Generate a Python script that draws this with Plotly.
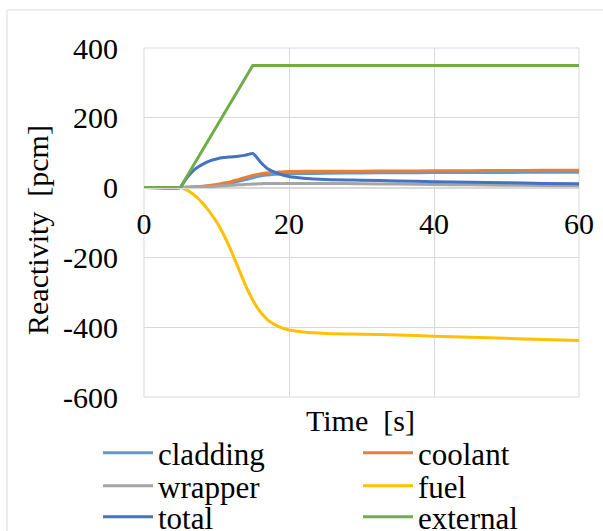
import plotly.graph_objects as go

time_s = [0, 5, 5.5, 6, 6.5, 7, 7.5, 8, 9, 10, 11, 12, 13, 14, 14.5, 15, 15.5, 16, 16.5, 17,
          18, 19, 20, 22, 25, 30, 35, 40, 45, 50, 55, 60]
external = [0, 0, 17.5, 35, 52.5, 70, 87.5, 105, 140, 175, 210, 245, 280, 315, 332.5, 350, 350, 350,
            350, 350, 350, 350, 350, 350, 350, 350, 350, 350, 350, 350, 350, 350]
total = [0, 0, 15, 30, 42, 52, 60, 66, 76, 82, 86, 88, 90, 93, 96, 98, 88, 75, 64, 55,
         44, 37, 32, 27, 23, 21, 19, 17, 15, 14, 12, 11]
coolant = [0, 0, 0.5, 1, 1.5, 2, 3, 4, 6, 9, 13, 17, 23, 29, 32, 35, 37, 39, 41, 42,
           44, 45, 46, 46.5, 47, 47, 47.5, 48, 48.5, 49, 49.5, 50]
cladding = [0, 0, 0.5, 1, 1.5, 2, 2.5, 3, 5, 7, 10, 13, 18, 23, 25, 28, 31, 33, 35, 36,
            38, 39, 40, 40.5, 41, 42, 42.5, 43, 43, 43.5, 44, 44]
wrapper = [0, 0, 0.3, 0.6, 1, 1.5, 2, 2.5, 3, 4, 5, 7, 8, 9, 9.5, 10, 10.5, 11, 11.5, 12,
           12, 12, 12, 12, 12, 11, 10, 9, 8, 7, 6, 5]
fuel = [0, 0, -3, -8, -15, -23, -32, -43, -68, -98, -135, -180, -230, -280, -302, -322, -340, -355,
        -367, -378, -392, -402, -408, -414, -418, -420, -422, -426, -429, -432, -435, -438]

x_ticks = [0, 20, 40, 60]
x_tick_text = ["0", "20", "40", "60"]
y_ticks = [-600, -400, -200, 0, 200, 400]
y_tick_text = ["-600", "-400", "-200", "0", "200", "400"]

FONT = "Liberation Serif, Times New Roman, Times, serif"
series = [
    ("cladding", cladding, "#5B9BD5", "legend"),
    ("coolant", coolant, "#ED7D31", "legend"),
    ("wrapper", wrapper, "#A5A5A5", "legend2"),
    ("fuel", fuel, "#FFC000", "legend2"),
    ("total", total, "#4472C4", "legend3"),
    ("external", external, "#70AD47", "legend3"),
]

fig = go.Figure()
for name, vals, col, lg in series:
    fig.add_trace(go.Scatter(x=time_s, y=vals, name=name, mode="lines",
                             line=dict(color=col, width=3,
                                       shape="linear" if name == "external" else "spline",
                                       smoothing=0.5),
                             legend=lg))

ML, MR, MT, MB = 144, 24, 48, 134
W, H = 603, 531
pw, ph = W - ML - MR, H - MT - MB

def px(x):
    return (x - ML) / pw

def py(y):
    return (H - MB - y) / ph

leg_common = dict(orientation="h", font=dict(family=FONT, size=31, color="black"),
                  bgcolor="rgba(0,0,0,0)", x=px(98), xanchor="left", yanchor="middle",
                  entrywidth=195, itemwidth=50, tracegroupgap=0)

fig.update_layout(
    width=W, height=H,
    margin=dict(l=ML, r=MR, t=MT, b=MB, autoexpand=False),
    paper_bgcolor="white", plot_bgcolor="white",
    font=dict(family=FONT, size=30, color="black"),
    legend=dict(**leg_common, y=py(453)),
    legend2=dict(**leg_common, y=py(486)),
    legend3=dict(**leg_common, y=py(517)),
    xaxis=dict(range=[0, 60], tickvals=x_ticks, ticktext=x_tick_text, showgrid=True,
               gridcolor="#D9D9D9", gridwidth=1,
               zeroline=False, anchor="free", position=0.6, showline=True, linecolor="#D9D9D9",
               ticks="", ticklabelstandoff=9, automargin=False,
               tickfont=dict(family=FONT, size=30, color="black")),
    yaxis=dict(range=[-600, 400], tickvals=y_ticks, ticktext=y_tick_text, showgrid=True,
               gridcolor="#D9D9D9", gridwidth=1, automargin=False,
               zeroline=False, ticks="", ticklabelstandoff=25,
               tickfont=dict(family=FONT, size=30, color="black")),
    shapes=[
        dict(type="rect", xref="paper", yref="paper", x0=0, x1=1, y0=0, y1=1,
             line=dict(color="#D9D9D9", width=1), layer="below"),
        dict(type="rect", xref="paper", yref="paper", x0=px(7), x1=px(610), y0=py(540), y1=py(10),
             line=dict(color="#D9D9D9", width=1), layer="below"),
    ],
    annotations=[
        dict(text="Time\u00a0\u00a0[s]", xref="paper", yref="paper", x=px(360), y=py(420),
             xanchor="center", yanchor="middle",
             showarrow=False, font=dict(family=FONT, size=30, color="black")),
        dict(text="Reactivity\u00a0\u00a0[pcm]", xref="paper", yref="paper", x=px(37), y=py(230),
             xanchor="center", yanchor="middle",
             showarrow=False, textangle=-90, font=dict(family=FONT, size=30, color="black")),
    ],
)

fig.write_html("out.html")
